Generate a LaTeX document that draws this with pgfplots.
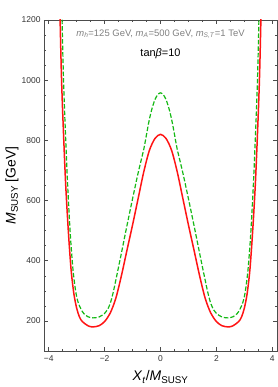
\documentclass[border=0pt]{standalone}
\usepackage{fontspec}
\setmainfont{Liberation Sans}
\usepackage{pgfplots}
\pgfplotsset{compat=1.18}
\definecolor{mgreen}{RGB}{20,185,20}
\definecolor{mred}{RGB}{255,20,20}
\begin{document}
\begin{tikzpicture}
\useasboundingbox (-44bp,-36bp) rectangle (234bp,351bp);
\begin{axis}[
  at={(0,0)}, anchor=south west,
  scale only axis, width=233bp, height=331bp,
  xmin=-4.17, xmax=4.17, ymin=100, ymax=1200,
  xtick={-4,-2,0,2,4}, xticklabels={−4,−2,0,2,4},
  ytick={200,400,600,800,1000,1200},
  yticklabels={200,400,600,800,1000,1200},
  minor x tick num=3, minor y tick num=3,
  tick align=inside,
  major tick length=4bp, minor tick length=2.2bp,
  tick style={black!70, line width=0.5bp},
  axis line style={black!70, line width=0.6bp},
  ticklabel style={font=\fontsize{8.5}{10}\selectfont, text=black!80},
  xticklabel style={yshift=-1bp},
  xlabel={\textit{X}\textsubscript{\textit{t}}/\textit{M}\textsubscript{SUSY}},
  ylabel={\textit{M}\textsubscript{SUSY} [GeV]},
  every axis x label/.style={at={([yshift=-26bp]axis description cs:0.5,0)}, anchor=center, font=\fontsize{14}{16}\selectfont},
  every axis y label/.style={at={([xshift=-32bp]axis description cs:0,0.5)}, anchor=center, rotate=90, font=\fontsize{14}{16}\selectfont},
]
\addplot[mred, line width=1.5bp, smooth] coordinates {
(-3.65,1470) (-3.60,1230) (-3.55,1030) (-3.50,890) (-3.40,665) (-3.30,500) (-3.20,370) (-3.10,290) (-3.00,242) (-2.90,213) (-2.80,198) (-2.60,184) (-2.43,180) (-2.20,184) (-2.00,198) (-1.80,226) (-1.60,275) (-1.40,350) (-1.20,435) (-1.00,519) (-0.80,607) (-0.60,695) (-0.40,766) (-0.20,806) (0,820)
(0.20,806) (0.40,766) (0.60,695) (0.80,607) (1.00,519) (1.20,435) (1.40,350) (1.60,275) (1.80,226) (2.00,198) (2.20,184) (2.43,180) (2.60,184) (2.80,198) (2.90,213) (3.00,242) (3.10,290) (3.20,370) (3.30,500) (3.40,665) (3.50,890) (3.55,1030) (3.60,1230) (3.65,1470)
};
\addplot[mgreen, line width=1.2bp, dash pattern=on 4.5bp off 2bp, smooth] coordinates {
(-3.58,1460) (-3.53,1230) (-3.48,1030) (-3.43,890) (-3.33,665) (-3.23,490) (-3.13,368) (-3.03,295) (-2.95,262) (-2.85,240) (-2.75,225) (-2.60,214) (-2.42,210) (-2.20,213) (-2.00,225) (-1.90,237) (-1.80,258) (-1.70,292) (-1.60,335) (-1.40,425) (-1.20,517) (-1.00,606) (-0.80,692) (-0.60,770) (-0.50,820) (-0.40,869) (-0.30,907) (-0.20,935) (-0.10,952) (0,958)
(0.10,952) (0.20,935) (0.30,907) (0.40,869) (0.50,820) (0.60,770) (0.80,692) (1.00,606) (1.20,517) (1.40,425) (1.60,335) (1.70,292) (1.80,258) (1.90,237) (2.00,225) (2.20,213) (2.42,210) (2.60,214) (2.75,225) (2.85,240) (2.95,262) (3.03,295) (3.13,368) (3.23,490) (3.33,665) (3.43,890) (3.48,1030) (3.53,1230) (3.58,1460)
};
\node[font=\fontsize{9.5}{11}\selectfont, text=black!50] at (axis cs:0,1153) {\textit{m}\textsubscript{\textit{h}}=125 GeV, \textit{m}\textsubscript{\textit{A}}=500 GeV, \textit{m}\textsubscript{\textit{S,T}}=1 TeV};
\node[font=\fontsize{11}{13}\selectfont, text=black] at (axis cs:0,1087) {tan\textit{β}=10};
\end{axis}
\end{tikzpicture}
\end{document}
